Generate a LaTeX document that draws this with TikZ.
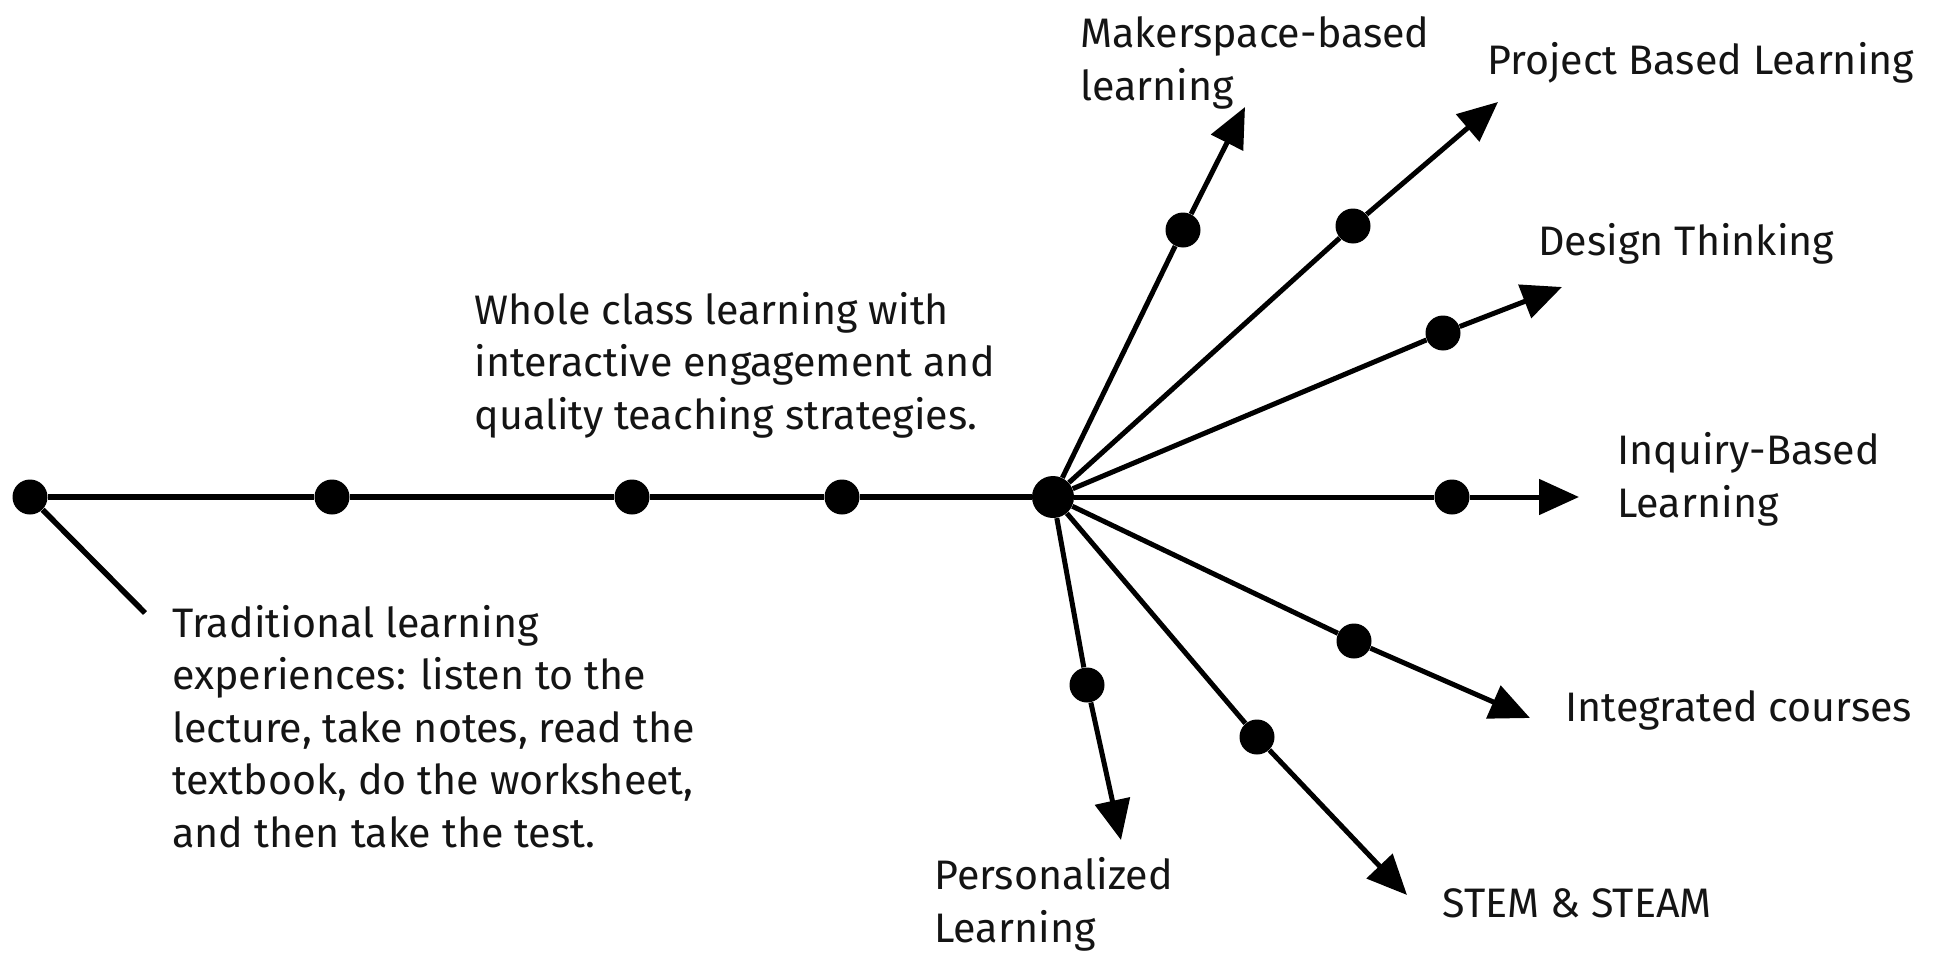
\documentclass[tikz,border=0pt]{standalone}
\usepackage{fontspec}
\setmainfont{Fira Sans}
\usetikzlibrary{arrows.meta}
\begin{document}
\begin{tikzpicture}[x=0.5pt,y=-0.5pt,
  dotn/.style={circle,fill=black,inner sep=0pt,minimum size=17.5pt},
  hubn/.style={circle,fill=black,inner sep=0pt,minimum size=21pt},
  mainline/.style={line width=2.8pt},
  branchline/.style={line width=2.5pt},
  branch/.style={line width=2.5pt,-{Triangle[length=20pt,width=17.5pt]}},
  lbl/.style={anchor=base west,align=left,inner sep=0pt,font=\fontsize{20.6}{26.25}\selectfont,text=black!92}]
\useasboundingbox (0,0) rectangle (1940,953);
% main timeline
\node[dotn] (A) at (30,497) {};
\node[dotn] (B) at (332,497) {};
\node[dotn] (C) at (632,497) {};
\node[dotn] (D) at (842,497) {};
\node[hubn] (H) at (1053,497) {};
\coordinate (lead) at (145,613);
\draw[mainline] (A) -- (B) -- (C) -- (D) -- (H);
\draw[mainline] (A) -- (lead);
% branch dots
\node[dotn] (dM) at (1183,230) {};
\node[dotn] (dP) at (1353,226) {};
\node[dotn] (dD) at (1443,333) {};
\node[dotn] (dI) at (1452,497) {};
\node[dotn] (dC) at (1354,641) {};
\node[dotn] (dS) at (1257,737) {};
\node[dotn] (dL) at (1087,685) {};
% arrow tips
\coordinate (tM) at (1245,107);
\coordinate (tP) at (1498,102);
\coordinate (tD) at (1562,287);
\coordinate (tI) at (1579,497);
\coordinate (tC) at (1530,718);
\coordinate (tS) at (1407,895);
\coordinate (tL) at (1121,840);
\foreach \d/\t in {dM/tM,dP/tP,dD/tD,dI/tI,dC/tC,dS/tS,dL/tL}{
  \draw[branchline] (H) -- (\d);
  \draw[branch] (\d) -- (\t);
}
% labels (multi-line: base anchor is the last line's baseline)
\node[lbl] (lM) at (1080,100) {Makerspace-based\\learning};
\node[lbl] (lP) at (1487,75) {Project Based Learning};
\node[lbl] (lD) at (1538,255) {Design Thinking};
\node[lbl] (lI) at (1617,517) {Inquiry-Based\\Learning};
\node[lbl] (lC) at (1565,721) {Integrated courses};
\node[lbl] (lS) at (1442,917) {STEM \& STEAM};
\node[lbl] (lL) at (934,942) {Personalized\\Learning};
\node[lbl] (lW) at (474,429) {Whole class learning with\\interactive engagement and\\quality teaching strategies.};
\node[lbl] (lT) at (172,847) {Traditional learning\\experiences: listen to the\\lecture, take notes, read the\\textbook, do the worksheet,\\and then take the test.};
\end{tikzpicture}
\end{document}
